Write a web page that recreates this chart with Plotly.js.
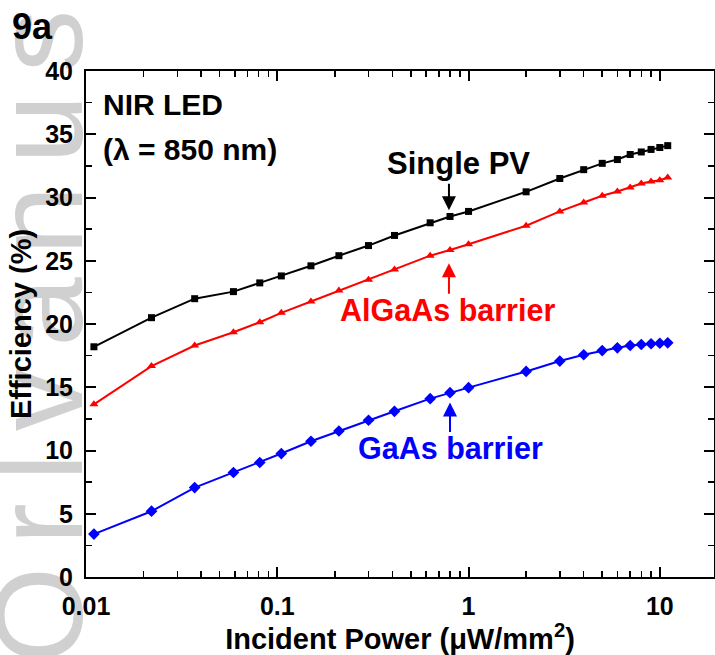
<!DOCTYPE html>
<html>
<head>
<meta charset="utf-8">
<script src="https://cdn.plot.ly/plotly-3.0.1.min.js"></script>
<style>
html,body{margin:0;padding:0;background:#fff;}
#chart{width:715px;height:655px;}
</style>
</head>
<body>
<div id="chart"></div>
<script>
// Incident power (uW/mm^2)
const power = [0.011, 0.022, 0.037, 0.059, 0.081, 0.105, 0.15, 0.21, 0.30, 0.41, 0.63, 0.80, 1.0, 2, 3, 4, 5, 6, 7, 8, 9, 10, 11];
// Efficiency (%)
const singlePV = [18.2, 20.5, 22.0, 22.56, 23.25, 23.8, 24.6, 25.4, 26.2, 27.0, 28.0, 28.5, 28.9, 30.45, 31.5, 32.2, 32.7, 33.0, 33.4, 33.6, 33.8, 33.95, 34.1];
const algaasBarrier = [13.65, 16.67, 18.3, 19.35, 20.14, 20.88, 21.78, 22.64, 23.49, 24.3, 25.4, 25.85, 26.3, 27.77, 28.9, 29.6, 30.14, 30.48, 30.8, 31.1, 31.27, 31.37, 31.58];
const gaasBarrier = [3.39, 5.2, 7.07, 8.26, 9.05, 9.76, 10.73, 11.54, 12.39, 13.1, 14.1, 14.57, 14.97, 16.25, 17.07, 17.57, 17.9, 18.12, 18.3, 18.38, 18.44, 18.48, 18.51];

const seriesNames = ["Single PV", "AlGaAs barrier", "GaAs barrier"];
const xTickVals = [0.01, 0.1, 1, 10];
const xTickText = ["0.01", "0.1", "1", "10"];
const yTickVals = [0, 5, 10, 15, 20, 25, 30, 35, 40];

const FONT = "Liberation Sans, Arial, sans-serif";

const traces = [
  {x: power, y: singlePV, name: seriesNames[0], mode: "lines+markers", type: "scatter",
   line: {color: "#000000", width: 2}, marker: {symbol: "square", size: 7, color: "#000000"}},
  {x: power, y: algaasBarrier, name: seriesNames[1], mode: "lines+markers", type: "scatter",
   line: {color: "#ff0000", width: 2}, marker: {symbol: "triangle-up", size: 8, color: "#ff0000"}},
  {x: power, y: gaasBarrier, name: seriesNames[2], mode: "lines+markers", type: "scatter",
   line: {color: "#0000ff", width: 2}, marker: {symbol: "diamond", size: 9, color: "#0000ff"}}
];

// watermark as svg image (below everything)
const wm = '<svg xmlns="http://www.w3.org/2000/svg" width="100" height="655">' +
  '<text transform="translate(82,664) rotate(-90)" font-family="Liberation Sans, Arial" font-size="125" letter-spacing="22" fill="#d0d0d0">Orlvanus</text></svg>';
const wmURI = "data:image/svg+xml;charset=utf-8," + encodeURIComponent(wm);

const L = 86, R = 714, T = 71, B = 577;
const pw = R - L, ph = B - T;

const layout = {
  width: 715, height: 655,
  margin: {l: L, r: 715 - R, t: T, b: 655 - B, pad: 0},
  paper_bgcolor: "#ffffff", plot_bgcolor: "rgba(0,0,0,0)",
  showlegend: false,
  font: {family: FONT, color: "#000000"},
  xaxis: {
    type: "log", range: [-2, Math.log10(19.2)],
    tickmode: "array", tickvals: xTickVals, ticktext: xTickText,
    ticks: "inside", ticklen: 10, tickwidth: 2, tickcolor: "#000",
    minor: {ticks: "inside", ticklen: 6, tickwidth: 1.5, tickcolor: "#000", dtick: "D1", showgrid: false},
    showline: true, linewidth: 2, linecolor: "#000", mirror: "allticks",
    showgrid: false, zeroline: false,
    tickfont: {family: FONT, size: 25, color: "#000", weight: "bold"},
    ticklabelstandoff: 6,
    title: {text: "Incident Power (\u03bcW/mm<sup>2</sup>)", font: {family: FONT, size: 29, color: "#000", weight: "bold"}, standoff: 6}
  },
  yaxis: {
    range: [0, 40], tickmode: "array", tickvals: yTickVals,
    ticks: "inside", ticklen: 10, tickwidth: 2, tickcolor: "#000",
    minor: {ticks: "inside", ticklen: 6, tickwidth: 1.5, tickcolor: "#000", dtick: 2.5, showgrid: false},
    showline: true, linewidth: 2, linecolor: "#000", mirror: "allticks",
    showgrid: false, zeroline: false,
    tickfont: {family: FONT, size: 25, color: "#000", weight: "bold"},
    ticklabelstandoff: 6,
    title: {text: "Efficiency (%)", font: {family: FONT, size: 29, color: "#000", weight: "bold"}, standoff: 5}
  },
  images: [{source: wmURI, xref: "paper", yref: "paper",
            x: (0 - L) / pw, y: (B - 0) / ph, sizex: 100 / pw, sizey: 655 / ph,
            xanchor: "left", yanchor: "top", sizing: "stretch", layer: "below"}],
  annotations: [
    {text: "<b>9a</b>", xref: "paper", yref: "paper", x: (10 - L) / pw, y: (B - 26) / ph,
     xanchor: "left", yanchor: "middle", showarrow: false, font: {family: FONT, size: 36, color: "#000"}},
    {text: "<b>NIR LED</b>", xref: "paper", yref: "paper", x: (101 - L) / pw, y: (B - 105) / ph,
     xanchor: "left", yanchor: "middle", showarrow: false, font: {family: FONT, size: 30, color: "#000"}},
    {text: "<b>(\u03bb = 850 nm)</b>", xref: "paper", yref: "paper", x: (101 - L) / pw, y: (B - 149) / ph,
     xanchor: "left", yanchor: "middle", showarrow: false, font: {family: FONT, size: 30, color: "#000"}},
    {text: "<b>Single PV</b>", xref: "x", yref: "y", x: Math.log10(0.885), y: 32.7,
     xanchor: "center", yanchor: "middle", showarrow: false, font: {family: FONT, size: 31, color: "#000"}},
    {text: "<b>AlGaAs barrier</b>", xref: "x", yref: "y", x: Math.log10(0.78), y: 21.1,
     xanchor: "center", yanchor: "middle", showarrow: false, font: {family: FONT, size: 30.5, color: "#ff0000"}},
    {text: "<b>GaAs barrier</b>", xref: "x", yref: "y", x: Math.log10(0.80), y: 10.2,
     xanchor: "center", yanchor: "middle", showarrow: false, font: {family: FONT, size: 30.5, color: "#0000ff"}},
    {text: "", xref: "x", yref: "y", x: Math.log10(0.79), y: 29.0, ax: 0, ay: -28,
     showarrow: true, arrowhead: 2, arrowsize: 1.4, arrowwidth: 2, arrowcolor: "#000"},
    {text: "", xref: "x", yref: "y", x: Math.log10(0.79), y: 24.8, ax: 0, ay: 32,
     showarrow: true, arrowhead: 2, arrowsize: 1.4, arrowwidth: 2, arrowcolor: "#ff0000"},
    {text: "", xref: "x", yref: "y", x: Math.log10(0.80), y: 13.8, ax: 0, ay: 31,
     showarrow: true, arrowhead: 2, arrowsize: 1.4, arrowwidth: 2, arrowcolor: "#0000ff"}
  ]
};

Plotly.newPlot("chart", traces, layout, {staticPlot: true, displayModeBar: false});
</script>
</body>
</html>
